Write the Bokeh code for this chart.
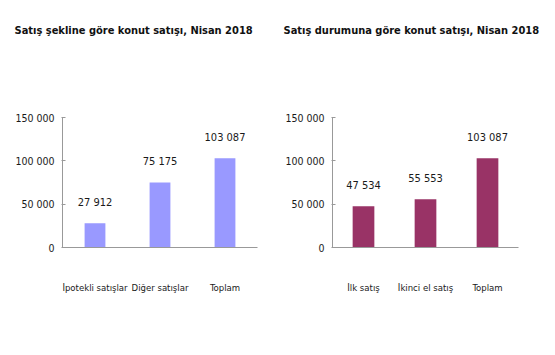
from bokeh.plotting import figure
from bokeh.layouts import row
from bokeh.models import ColumnDataSource, FixedTicker, FactorRange, Range1d, Title
from bokeh.core.properties import value
from bokeh.embed import file_html
from bokeh.resources import INLINE

title_left = "Satış şekline göre konut satışı, Nisan 2018"
title_right = "Satış durumuna göre konut satışı, Nisan 2018"
cats_left = ["İpotekli satışlar", "Diğer satışlar", "Toplam"]
vals_left = [27912, 75175, 103087]
cats_right = ["İlk satış", "İkinci el satış", "Toplam"]
vals_right = [47534, 55553, 103087]
y_ticks = [0, 50000, 100000, 150000]
y_tick_labels = ["0", "50 000", "100 000", "150 000"]

FONT = "DejaVu Sans Condensed"


def fmt(v):
    return f"{v:,}".replace(",", " ")


def make(cats, vals, color, title, width, left, frame_w, frame_bottom, y150_px, bar_w, title_dx):
    top = 44
    frame_h = frame_bottom - top
    y_end = 150000 * frame_h / (frame_bottom - y150_px)
    p = figure(
        x_range=FactorRange(*cats), y_range=Range1d(0, y_end),
        width=width, height=355,
        min_border_left=left, min_border_right=width - left - frame_w,
        min_border_top=top, min_border_bottom=355 - frame_bottom,
        output_backend="svg", toolbar_location=None,
        outline_line_color=None, background_fill_color="white",
        border_fill_color="white",
    )
    src = ColumnDataSource(dict(cat=cats, val=vals, lab=[fmt(v) for v in vals]))
    p.vbar(x="cat", top="val", width=bar_w, source=src, fill_color=color, line_color=None)
    p.text(x="cat", y="val", text="lab", source=src, text_align="center",
           text_baseline="bottom", y_offset=-14, text_font=value(FONT),
           text_font_size="11px", text_color="#1a1a1a")
    p.grid.visible = False

    xa = p.xaxis[0]
    xa.major_tick_line_color = None
    xa.minor_tick_line_color = None
    xa.axis_line_color = "#999999"
    xa.major_label_standoff = 28
    xa.major_label_text_font = FONT
    xa.major_label_text_font_size = "9.5px"
    xa.major_label_text_color = "#1a1a1a"

    ya = p.yaxis[0]
    ya.ticker = FixedTicker(ticks=y_ticks)
    ya.bounds = (0, 150000)
    ya.major_label_overrides = dict(zip(y_ticks, y_tick_labels))
    ya.major_tick_out = 1
    ya.major_tick_in = 3
    ya.minor_tick_line_color = None
    ya.axis_line_color = "#999999"
    ya.major_tick_line_color = "#999999"
    ya.major_label_standoff = 7
    ya.major_label_text_font = FONT
    ya.major_label_text_font_size = "10.5px"
    ya.major_label_text_color = "#1a1a1a"

    p.add_layout(Title(text=title, align="left", offset=title_dx, standoff=15,
                       text_font=FONT, text_font_style="bold",
                       text_font_size="11px", text_color="#111111"), "above")
    return p


p1 = make(cats_left, vals_left, "#9999ff", title_left,
          275, 62, 195, 252, 119, 0.32, -48)
p2 = make(cats_right, vals_right, "#993366", title_right,
          280, 57, 186, 247, 117, 0.35, -49)

layout = row(p1, p2, spacing=0)
open("out.html", "w").write(file_html(layout, INLINE))
